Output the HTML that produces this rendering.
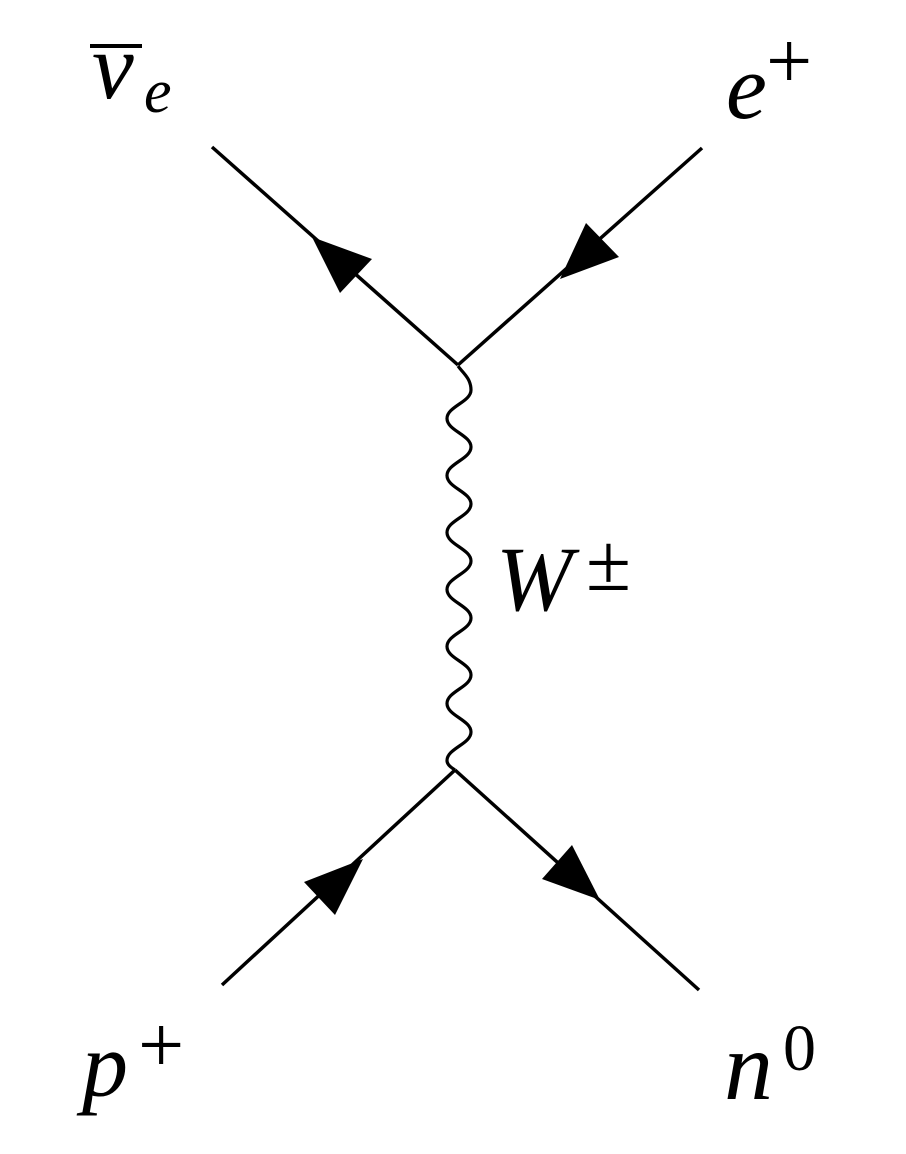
<!DOCTYPE html>
<html><head><meta charset="utf-8"><style>
html,body{margin:0;padding:0;background:#fff;}
svg{display:block;}
text{font-family:"Liberation Serif","DejaVu Serif",serif;fill:#000;}
.i{font-style:italic;}
</style></head><body>
<svg width="906" height="1154" viewBox="0 0 906 1154" xmlns="http://www.w3.org/2000/svg">
<rect width="906" height="1154" fill="#fff"/>
<g stroke="#000" stroke-width="3.5" fill="none" stroke-linecap="butt">
<line x1="212" y1="147" x2="458" y2="365"/>
<line x1="702" y1="148" x2="458" y2="365"/>
<line x1="222" y1="985" x2="455" y2="770"/>
<line x1="699" y1="990" x2="455" y2="770"/>
<path stroke-width="3.2" d="M458,366 C462,372 471,378 471,390
C471,402 447,406.5 447,418.5
C447,430.5 471,435 471,447
C471,459 447,463.5 447,475.5
C447,487.5 471,492 471,504
C471,516 447,520.5 447,532.5
C447,544.5 471,549 471,561
C471,573 447,577.5 447,589.5
C447,601.5 471,606 471,618
C471,630 447,634.5 447,646.5
C447,658.5 471,663 471,675
C471,687 447,691.5 447,703.5
C447,715.5 471,720 471,732
C471,744 447,748.5 447,760.5
C447,765 452,768 455,770"/>
</g>
<g fill="#000">
<polygon points="312,237 372,259 340,293"/>
<polygon points="560,279 619,257 586,223"/>
<polygon points="363,859 335,915 304,882"/>
<polygon points="600,900 572,845 542,879"/>
</g>
<line x1="90" y1="46" x2="142" y2="46" stroke="#000" stroke-width="4"/>
<text class="i" x="92" y="98" font-size="94">ν</text>
<text class="i" x="144" y="112" font-size="62">e</text>
<text class="i" x="726" y="118" font-size="92">e</text>
<text x="766" y="88" font-size="82">+</text>
<text class="i" x="496" y="610" font-size="92">W</text>
<text x="586" y="590" font-size="82">±</text>
<text class="i" x="82" y="1096" font-size="92">p</text>
<text x="138" y="1072" font-size="82">+</text>
<text class="i" x="724" y="1099" font-size="98">n</text>
<text x="783" y="1070" font-size="66">0</text>
</svg>
</body></html>
